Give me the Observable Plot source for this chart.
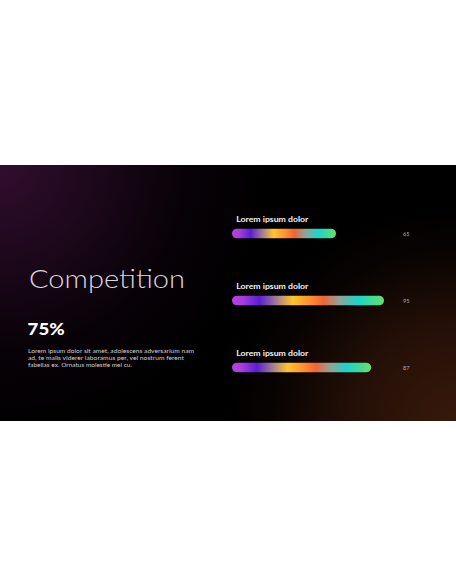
<!DOCTYPE html>
<html>
<head>
<meta charset="utf-8">
<script src="https://cdn.jsdelivr.net/npm/d3@7"></script>
<script src="https://cdn.jsdelivr.net/npm/@observablehq/plot@0.6"></script>
<style>
  html, body { margin: 0; padding: 0; background: #ffffff; width: 456px; height: 586px; overflow: hidden; }
  #slide {
    position: absolute; left: 0; top: 165px; width: 456px; height: 256px; overflow: hidden;
    background:
      radial-gradient(circle 270px at 0% 0%, rgba(48,14,46,1) 0%, rgba(34,9,32,0.85) 35%, rgba(14,3,13,0.5) 70%, rgba(0,0,0,0) 100%),
      radial-gradient(ellipse 230px 215px at 100% 100%, rgba(56,25,11,1) 0%, rgba(42,18,8,0.85) 45%, rgba(20,8,4,0.4) 80%, rgba(0,0,0,0) 100%),
      #000;
  }
  #slide svg { position: absolute; left: 0; top: 0; }
</style>
</head>
<body>
<div id="slide">
  <svg id="deco" width="456" height="256" viewBox="0 0 456 256">
    <text x="29" y="123" textLength="156" lengthAdjust="spacingAndGlyphs"
      style="font-family: Lato, 'Open Sans', sans-serif; font-weight: 300; font-size: 26px; fill: #ddd7dd;">Competition</text>
    <text x="27.6" y="170" textLength="37" lengthAdjust="spacingAndGlyphs"
      style="font-family: Lato, 'Open Sans', sans-serif; font-weight: 900; font-size: 17.5px; fill: #ffffff;">75%</text>
    <g style="font-family: Lato, 'Open Sans', sans-serif; font-weight: 400; font-size: 5.7px; fill: #d4d0d4;">
      <text x="28" y="187.6" textLength="166" lengthAdjust="spacingAndGlyphs">Lorem ipsum dolor sit amet, adolescens adversarium nam</text>
      <text x="28" y="194.8" textLength="156" lengthAdjust="spacingAndGlyphs">ad, te malis viderer laboramus per, vel nostrum ferent</text>
      <text x="28" y="201.9" textLength="104" lengthAdjust="spacingAndGlyphs">fabellas ex. Ornatus molestie mel cu.</text>
    </g>
  </svg>
</div>
<script>
  // Chart data
  const labels = ["Lorem ipsum dolor", "Lorem ipsum dolor", "Lorem ipsum dolor"];
  const values = [65, 95, 87];
  const rowIds = [0, 1, 2];
  const gradientStops = [
    [0.00, "#b444de"],
    [0.07, "#a63ede"],
    [0.18, "#5a1ed2"],
    [0.29, "#a07a9a"],
    [0.40, "#ffc52c"],
    [0.52, "#ff8c30"],
    [0.60, "#f26434"],
    [0.71, "#8fa49a"],
    [0.83, "#18d6cc"],
    [1.00, "#66df68"]
  ];

  const rows = rowIds.map(i => ({ i, label: labels[i], value: values[i] }));

  const chart = Plot.plot({
    width: 456,
    height: 256,
    margin: 0,
    style: { background: "transparent", overflow: "visible" },
    x: { domain: [0, 100], range: [232, 392], axis: null },
    y: { type: "band", domain: rowIds, range: [35.05, 236.95], padding: 0, axis: null },
    marks: [
      Plot.barX(rows, {
        x: "value", y: "i", fill: "url(#barGrad)", rx: 5,
        insetTop: 28.65, insetBottom: 28.65
      }),
      Plot.text(rows, {
        x: () => 0, y: "i", text: "label",
        textAnchor: "start", lineAnchor: "bottom", dx: 3.8, dy: -12.4,
        fill: "#f4f4f4", fontSize: 7.6, fontWeight: 700, fontFamily: "Lato, 'Open Sans', sans-serif"
      }),
      Plot.text(rows, {
        x: () => 100, y: "i", text: d => String(d.value),
        textAnchor: "start", lineAnchor: "middle", dx: 10.6,
        fill: "#b4b0b0", fontSize: 5.6, fontFamily: "Lato, 'Open Sans', sans-serif"
      })
    ]
  });

  const svg = d3.select(chart);
  const defs = svg.insert("defs", ":first-child");
  const grad = defs.append("linearGradient").attr("id", "barGrad")
    .attr("x1", "0").attr("x2", "1").attr("y1", "0").attr("y2", "0");
  gradientStops.forEach(([o, c]) => grad.append("stop").attr("offset", o).attr("stop-color", c));

  // fit bar labels to the reference width
  const textGroups = svg.selectAll('g[aria-label="text"]').nodes();
  if (textGroups[0]) {
    d3.select(textGroups[0]).selectAll("text")
      .attr("textLength", 72).attr("lengthAdjust", "spacingAndGlyphs");
  }

  document.getElementById("slide").appendChild(chart);
</script>
</body>
</html>
